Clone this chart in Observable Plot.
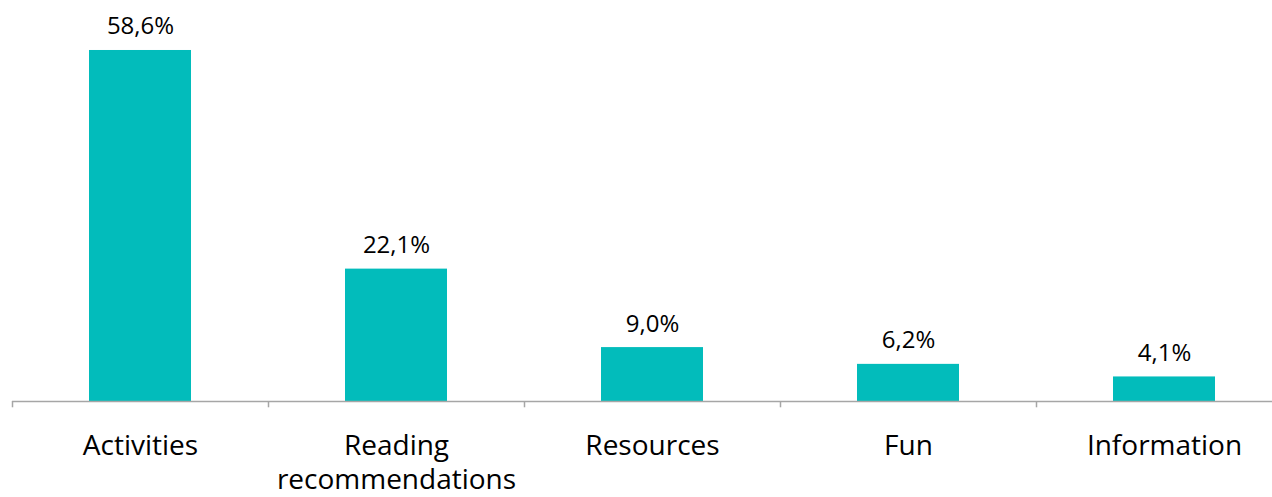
<!DOCTYPE html>
<html><head><meta charset="utf-8">
<script src="https://cdn.jsdelivr.net/npm/d3@7"></script>
<script src="https://cdn.jsdelivr.net/npm/@observablehq/plot@0.6"></script>
<style>body{margin:0;background:#fff}</style>
</head><body><div id="chart"></div>
<script>
const categories = ["Activities", "Reading recommendations", "Resources", "Fun", "Information"];
const values = [58.6, 22.1, 9.0, 6.2, 4.1];
const labels = ["58,6%", "22,1%", "9,0%", "6,2%", "4,1%"];

const data = categories.map((c, i) => ({cat: c, v: values[i], label: labels[i]}));
const W = 1272, H = 497;
const xRange = [12, 1292];
const step = (xRange[1] - xRange[0]) / categories.length;
const font = "'Open Sans', 'Noto Sans', sans-serif";

const chart = Plot.plot({
  width: W, height: H,
  marginLeft: 12, marginRight: 0, marginTop: 0, marginBottom: 0,
  style: {fontFamily: font, background: "#fff"},
  x: {domain: categories, range: xRange, paddingInner: 0.6, paddingOuter: 0.3, align: 0.5, axis: null},
  y: {domain: [0, 60], range: [401, 401 - 60 * 5.99], axis: null},
  marks: [
    Plot.barY(data, {x: "cat", y: "v", fill: "#02bcbb", style: {filter: "drop-shadow(1px 1px 1.5px rgba(0,0,0,0.25))"}}),
    Plot.ruleY([0], {stroke: "#a6a6a6", strokeWidth: 1.5}),
    Plot.ruleX(categories, {x: d => d, y1: 0, y2: -1.05, dx: -step / 2, stroke: "#a6a6a6", strokeWidth: 1.5}),
    Plot.text(data, {x: "cat", y: "v", text: "label", lineAnchor: "bottom", dy: -16, fontSize: 24, fill: "#000"}),
    Plot.text(data, {x: "cat", y: 0, text: "cat", lineAnchor: "top", dy: 30, fontSize: 28, lineWidth: 9, lineHeight: 1.2, fill: "#000"})
  ]
});
document.getElementById("chart").appendChild(chart);
</script>
</body></html>
